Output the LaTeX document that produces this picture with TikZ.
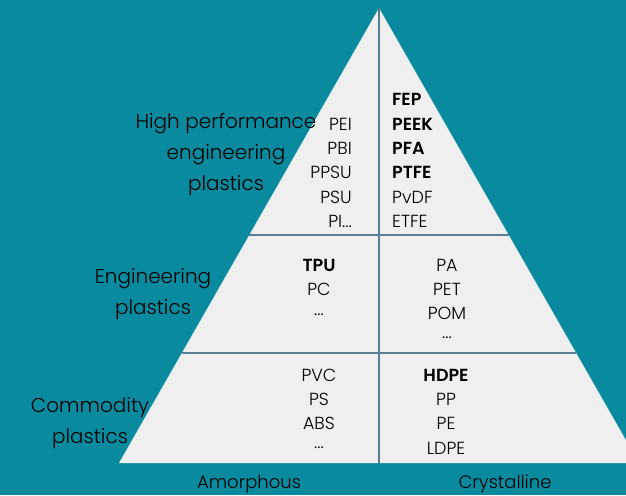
\documentclass[tikz,border=0pt]{standalone}
\usepackage{fontspec}
\setmainfont{Poppins Light}[BoldFont=Poppins SemiBold]
\definecolor{seabg}{HTML}{0A8A9E}
\definecolor{pyrfill}{HTML}{EFEFEF}
\definecolor{divline}{HTML}{5A7D96}
\tikzset{
    tier/.style={font=\fontsize{20}{31}\selectfont, align=center, text=black},
    item/.style={font=\fontsize{17.5}{18}\selectfont, text=black, inner sep=0pt},
    hot/.style={item, font=\fontsize{17.5}{18}\selectfont\bfseries},
    axis/.style={font=\fontsize{18}{20}\selectfont, text=black}
}
\begin{document}
\begin{tikzpicture}[x=1pt,y=-1pt]
    \clip (0,0) rectangle (626,495);
    \fill[seabg] (0,0) rectangle (626,495);

    % pyramid and its dividers
    \fill[pyrfill] (379,8) -- (119,463) -- (639,463) -- cycle;
    \draw[divline, line width=2pt] (249,235) -- (509,235);
    \draw[divline, line width=2pt] (182,353) -- (576,353);
    \draw[divline, line width=2pt] (379,8) -- (379,463);

    % tier names
    \node[tier] (hpep) at (226,155) {High performance\\engineering\\plastics};
    \node[tier] (engp) at (153,294) {Engineering\\plastics};
    \node[tier] (comp) at (90,423) {Commodity\\plastics};

    % top tier
    \begin{scope}[every node/.append style={anchor=east}]
        \node[item] (pei)  at (352,124) {PEI};
        \node[item] (pbi)  at (352,148) {PBI};
        \node[item] (ppsu) at (352,172) {PPSU};
        \node[item] (psu)  at (352,197) {PSU};
        \node[item] (pi)   at (352,221) {PI...};
    \end{scope}
    \begin{scope}[every node/.append style={anchor=west}]
        \node[hot]  (fep)  at (392,99)  {FEP};
        \node[hot]  (peek) at (392,124) {PEEK};
        \node[hot]  (pfa)  at (392,148) {PFA};
        \node[hot]  (ptfe) at (392,172) {PTFE};
        \node[item] (pvdf) at (392,197) {PvDF};
        \node[item] (etfe) at (392,221) {ETFE};
    \end{scope}

    % middle tier
    \node[hot]  (tpu) at (319,265) {TPU};
    \node[item] (pc)  at (319,289) {PC};
    \node[item] (dotsa) at (319,315) {...};
    \node[item] (pa)  at (447,265) {PA};
    \node[item] (pet) at (447,289) {PET};
    \node[item] (pom) at (447,313) {POM};
    \node[item] (dotsb) at (447,338) {...};

    % bottom tier
    \node[item] (pvc) at (319,375) {PVC};
    \node[item] (ps)  at (319,399) {PS};
    \node[item] (abs) at (319,423) {ABS};
    \node[item] (dotsc) at (319,448) {...};
    \node[hot]  (hdpe) at (446,375) {HDPE};
    \node[item] (pp)  at (446,399) {PP};
    \node[item] (pe)  at (446,423) {PE};
    \node[item] (ldpe) at (446,448) {LDPE};

    % column names
    \node[axis] (amor) at (249,484) {Amorphous};
    \node[axis] (crys) at (505,484) {Crystalline};
\end{tikzpicture}
\end{document}
